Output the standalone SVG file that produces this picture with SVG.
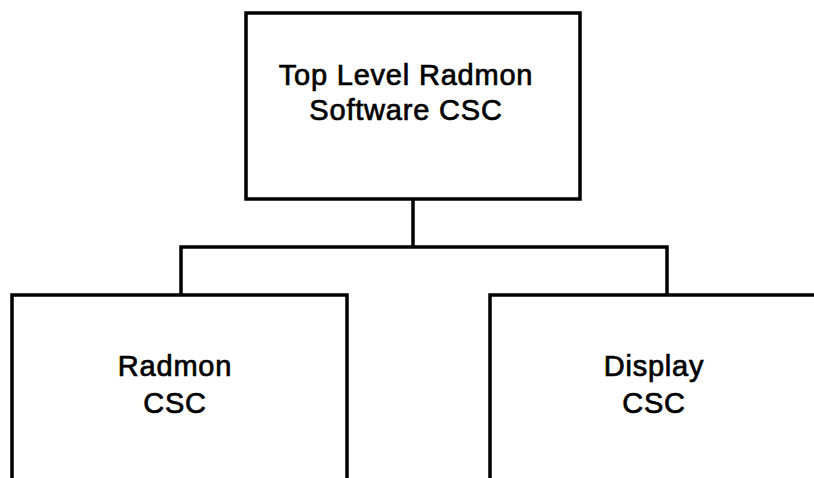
<svg xmlns="http://www.w3.org/2000/svg" width="814" height="478" viewBox="0 0 814 478">
<style>
.box{fill:none;stroke:#000;stroke-width:3.5}
.conn{fill:none;stroke:#000;stroke-width:3.5}
.t{font-family:"Liberation Sans",Arial,sans-serif;font-size:29px;letter-spacing:0.8px;text-anchor:middle;fill:#000;stroke:#000;stroke-width:0.7}
</style>
<rect width="814" height="478" fill="#fff"/>
<g id="connectors">
<path class="conn" d="M413 199 V247"/>
<path class="conn" d="M181 295 V247 H667 V295"/>
</g>
<g id="top">
<rect class="box" x="246" y="13" width="334" height="186"/>
<text class="t" x="406" y="85">Top Level Radmon</text>
<text class="t" x="406" y="120">Software CSC</text>
</g>
<g id="radmon">
<path class="box" d="M12 480 V295 H347 V480"/>
<text class="t" x="175" y="376">Radmon</text>
<text class="t" x="175" y="413">CSC</text>
</g>
<g id="display">
<path class="box" d="M490 480 V295 H820"/>
<text class="t" x="654" y="376">Display</text>
<text class="t" x="654" y="413">CSC</text>
</g>
</svg>
